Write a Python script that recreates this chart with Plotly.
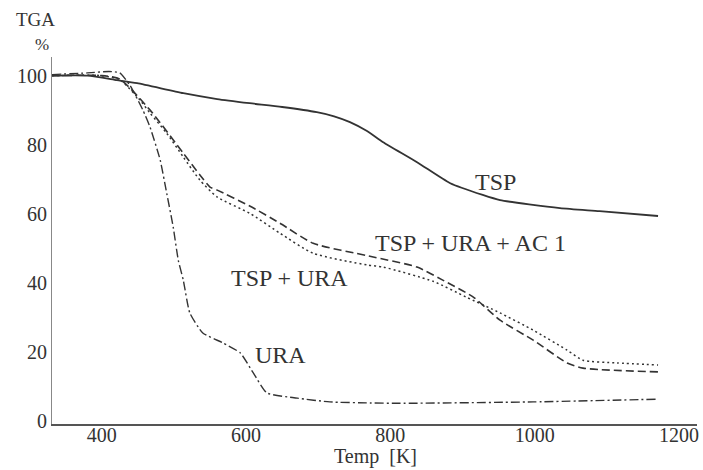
import plotly.graph_objects as go

# ---- data ----
t_tsp = [331, 380, 421, 449, 513, 560, 605, 650, 698, 722, 744, 767, 790, 837, 883, 928, 952, 1035, 1090, 1171]
v_tsp = [100, 100, 98.7, 97.8, 94.9, 93.2, 92.0, 90.9, 89.4, 88.2, 86.5, 84.0, 80.7, 74.9, 68.8, 65.4, 63.9, 61.6, 60.7, 59.3]

t_tsp_ura = [331, 400, 425, 453, 467, 490, 513, 536, 560, 605, 647, 693, 768, 790, 860, 905, 952, 998, 1045, 1067, 1114, 1171]
v_tsp_ura = [100, 100, 98.8, 92.9, 89.1, 83.3, 76.4, 69.7, 64.8, 60.1, 54.3, 48.5, 45.1, 44.5, 40.3, 35.8, 31.2, 26.2, 20.4, 17.5, 16.7, 16.1]

t_tsp_ura_ac = [331, 400, 425, 467, 513, 536, 550, 560, 605, 647, 693, 770, 837, 870, 915, 952, 998, 1045, 1067, 1171]
v_tsp_ura_ac = [100, 100, 99.0, 90.0, 77.5, 71.2, 67.7, 66.8, 62.2, 57.2, 51.4, 47.7, 44.5, 41.0, 35.8, 29.1, 23.3, 16.7, 15.2, 14.1]

t_ura = [331, 380, 410, 425, 439, 457, 467, 481, 490, 499, 506, 513, 522, 540, 568, 592, 610, 629, 671, 716, 772, 813, 998, 1171]
v_ura = [100.3, 100.8, 101.2, 100.8, 97.2, 90.0, 85.0, 75.5, 65.9, 56.1, 46.5, 40.7, 31.2, 25.4, 22.5, 19.6, 13.8, 8.0, 6.5, 5.4, 5.1, 5.0, 5.4, 6.2]

x_ticks = [400, 600, 800, 1000, 1200]
y_ticks = [0, 20, 40, 60, 80, 100]

FONT = "Liberation Serif"
INK = "#333333"

# plot-domain margins (pixels)
L, R, T, B = 52, 6, 57, 46
W, H = 703 - L - R, 470 - T - B

def px_to_paper(px, py):
    return (px - L) / W, (470 - B - py) / H

fig = go.Figure()
fig.add_trace(go.Scatter(x=t_tsp, y=v_tsp, mode="lines", line=dict(color=INK, width=1.8, shape="spline", smoothing=0.6)))
fig.add_trace(go.Scatter(x=t_tsp_ura, y=v_tsp_ura, mode="lines", line=dict(color=INK, width=1.5, dash="2px,3px", shape="spline", smoothing=0.6)))
fig.add_trace(go.Scatter(x=t_tsp_ura_ac, y=v_tsp_ura_ac, mode="lines", line=dict(color=INK, width=1.6, dash="8px,4px", shape="spline", smoothing=0.6)))
fig.add_trace(go.Scatter(x=t_ura, y=v_ura, mode="lines", line=dict(color=INK, width=1.4, dash="9px,3px,2px,3px", shape="spline", smoothing=0.5)))

labels = [
    ("TSP", 495, 182, 24),
    ("TSP + URA + AC 1", 470, 243, 24),
    ("TSP + URA", 289, 278, 24),
    ("URA", 280, 355, 24),
    ("TGA", 35, 20, 19),
    ("%", 42, 44, 17),
    ("Temp  [K]", 375, 456, 20),
]
for txt, px, py, sz in labels:
    ax, ay = px_to_paper(px, py)
    fig.add_annotation(text=txt, x=ax, y=ay, xref="paper", yref="paper",
                       showarrow=False, font=dict(family=FONT, size=sz, color=INK),
                       xanchor="center", yanchor="middle")

fig.update_layout(
    width=703, height=470,
    margin=dict(l=L, r=R, t=T, b=B),
    paper_bgcolor="white", plot_bgcolor="white",
    showlegend=False,
    font=dict(family=FONT, color=INK),
)
fig.update_xaxes(range=[331, 1225], tickvals=x_ticks, ticktext=[str(v) for v in x_ticks],
                 showgrid=False, zeroline=False, showline=True, linecolor="#555555", linewidth=2,
                 ticks="", automargin=False, ticklabelstandoff=-8,
                 tickfont=dict(family=FONT, size=20, color=INK))
fig.update_yaxes(range=[-1.0, 105.4], tickvals=y_ticks, ticktext=[str(v) for v in y_ticks],
                 showgrid=False, zeroline=False, showline=True, linecolor="#888888", linewidth=1,
                 ticks="", automargin=False, tickfont=dict(family=FONT, size=20, color=INK))

fig.write_html("out.html")
